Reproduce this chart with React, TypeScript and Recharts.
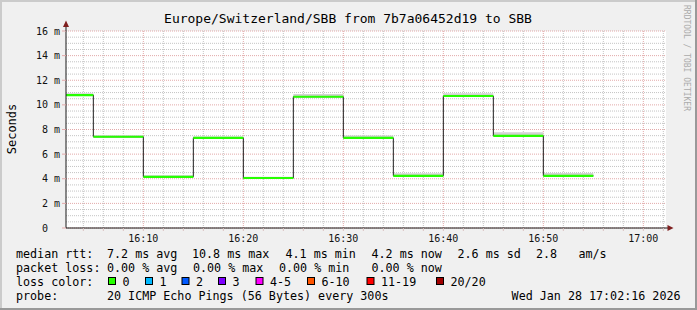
import React from 'react';
import { ComposedChart, Area, XAxis, YAxis, CartesianGrid } from 'recharts';

// minutes after 16:00, one 5 minute step each
const stepStart = [0, 5, 10, 15, 20, 25, 30, 35, 40, 45, 50];
const medianRtt = [10.8, 7.41, 4.16, 7.32, 4.06, 10.66, 7.32, 4.24, 10.72, 7.49, 4.24];
const smokeLow = [10.75, 7.36, 4.11, 7.27, 4.01, 10.61, 7.27, 4.19, 10.67, 7.44, 4.19];
const smokeHigh = [10.95, 7.53, 4.28, 7.44, 4.17, 10.88, 7.52, 4.44, 10.94, 7.77, 4.47];

const timeTicks = [10, 20, 30, 40, 50, 60];
const timeMinorTicks = [4, 6, 8, 12, 14, 16, 18, 22, 24, 26, 28, 32, 34, 36, 38, 42, 44, 46, 48, 52, 54, 56, 58, 62];
const rttTicks = [0, 2, 4, 6, 8, 10, 12, 14, 16];
const rttMinorTicks = [0.5, 1, 1.5, 2.5, 3, 3.5, 4.5, 5, 5.5, 6.5, 7, 7.5, 8.5, 9, 9.5, 10.5, 11, 11.5, 12.5, 13, 13.5, 14.5, 15, 15.5];

const lossLabels = ['0', '1', '2', '3', '4-5', '6-10', '11-19', '20/20'];
const lossColors = ['#26ff00', '#00b8ff', '#0059ff', '#7e00ff', '#ff00ff', '#ff5500', '#ff0000', '#a10000'];
const lossBoxX = [108, 145, 181.5, 218, 255.5, 307, 366.5, 436];

const rttLine = [
  ['median rtt:', 16],
  ['7.2 ms avg', 107],
  ['10.8 ms max', 192],
  ['4.1 ms min', 285.5],
  ['4.2 ms now', 371.5],
  ['2.6 ms sd', 457.5],
  ['2.8', 536],
  ['am/s', 578.5],
] as const;
const lossLine = [
  ['packet loss:', 16],
  ['0.00 % avg', 107],
  ['0.00 % max', 193],
  ['0.00 % min', 279],
  ['0.00 % now', 371.5],
] as const;

const X_DOMAIN: [number, number] = [2 + 16 / 60, 62 + 16 / 60];
const Y_DOMAIN: [number, number] = [0, 16];
const STEP = 5;
const BAND = 0.09;
const MINOR_GRID = '#c4c4c4';
const MAJOR_GRID = '#e2a9a9';

const allTimeTicks = [...timeTicks, ...timeMinorTicks].sort((a, b) => a - b);

const chartData = stepStart.map((t, i) => ({
  t,
  median: medianRtt[i],
  low: smokeLow[i],
  high: smokeHigh[i],
}));
// close the last step
chartData.push({ ...chartData[chartData.length - 1], t: stepStart[stepStart.length - 1] + STEP });

const fmtTime = (m: number) => {
  if (!timeTicks.includes(m)) return '';
  const h = 16 + Math.floor(m / 60);
  const mm = m % 60;
  return `${h}:${String(mm).padStart(2, '0')}`;
};
const fmtRtt = (v: number) => (v === 0 ? '0\u00a0\u00a0' : `${v} m`);

const minorHorizontal = ({ yAxis, offset }: any) =>
  rttMinorTicks.map((v) =>
    yAxis && typeof yAxis.scale === 'function'
      ? yAxis.scale(v)
      : offset.top + offset.height - ((v - Y_DOMAIN[0]) / (Y_DOMAIN[1] - Y_DOMAIN[0])) * offset.height,
  );

// vertical grid comes from the x axis ticks: red every 10 min, grey every 2 min, no edge lines
const renderVertical = (p: any) => {
  const t = allTimeTicks[p.index];
  if (t === undefined) return <g key={`v-${p.index}`} />;
  return (
    <line
      key={`v-${p.index}`}
      x1={p.x1}
      y1={p.y1}
      x2={p.x2}
      y2={p.y2}
      stroke={timeTicks.includes(t) ? MAJOR_GRID : MINOR_GRID}
      strokeDasharray="1 1"
    />
  );
};

const MONO = '"DejaVu Sans Mono", monospace';
const tickFont = { fontFamily: MONO, fontSize: 10, fill: '#111' };

export default function App() {
  return (
    <div style={{ position: 'absolute', left: 0, top: 0, width: 697, height: 310, background: '#f0f0f0' }}>
      {/* white canvas behind the plot area */}
      <svg width={697} height={310} style={{ position: 'absolute', left: 0, top: 0 }}>
        <rect x={66} y={31} width={600} height={197} fill="#ffffff" />
      </svg>
      <ComposedChart
        width={697}
        height={310}
        data={chartData}
        margin={{ top: 31, right: 31, bottom: 52, left: 6 }}
      >
        <CartesianGrid
          vertical={false}
          horizontalCoordinatesGenerator={minorHorizontal}
          stroke={MINOR_GRID}
          strokeDasharray="1 1"
        />
        <CartesianGrid vertical={renderVertical} stroke={MAJOR_GRID} strokeDasharray="1 1" />
        <XAxis
          dataKey="t"
          type="number"
          domain={X_DOMAIN}
          ticks={allTimeTicks}
          interval={0}
          tickFormatter={fmtTime}
          allowDataOverflow
          height={30}
          axisLine={{ stroke: '#1a1a1a' }}
          tickLine={{ stroke: '#d8c0c0' }}
          tickSize={3}
          tickMargin={4}
          tick={tickFont}
        />
        <YAxis
          type="number"
          domain={Y_DOMAIN}
          ticks={rttTicks}
          tickFormatter={fmtRtt}
          allowDataOverflow
          width={60}
          axisLine={{ stroke: '#1a1a1a' }}
          tickLine={{ stroke: MAJOR_GRID }}
          tickSize={4}
          tickMargin={2}
          tick={tickFont}
        />
        <Area
          dataKey={(d: any) => [d.low, d.high]}
          type="stepAfter"
          fill="#d2d2d2"
          fillOpacity={1}
          stroke="none"
          isAnimationActive={false}
        />
        <Area
          dataKey="median"
          type="stepAfter"
          fill="none"
          stroke="#202020"
          strokeWidth={1}
          isAnimationActive={false}
        />
        <Area
          dataKey={(d: any) => [d.median - BAND, d.median + BAND]}
          type="stepAfter"
          fill={lossColors[0]}
          fillOpacity={1}
          stroke="none"
          isAnimationActive={false}
        />
      </ComposedChart>

      <svg width={697} height={310} style={{ position: 'absolute', left: 0, top: 0, pointerEvents: 'none' }}>
        <rect x={0} y={0} width={697} height={2} fill="#cbcbcb" />
        <rect x={0} y={0} width={2} height={310} fill="#cbcbcb" />
        <rect x={0} y={308} width={697} height={2} fill="#999999" />
        <rect x={695} y={0} width={2} height={310} fill="#999999" />

        {/* axis arrows */}
        <line x1={66} y1={26} x2={66} y2={31} stroke="#1a1a1a" />
        <polygon points="63,27 66,20.5 69,27" fill="#7f1f1f" />
        <line x1={666} y1={228} x2={668} y2={228} stroke="#1a1a1a" />
        <polygon points="667.5,225 673.5,228 667.5,231" fill="#7f1f1f" />

        <text x={348} y={22.5} textAnchor="middle" fontFamily={MONO} fontSize={13} fill="#000">
          Europe/Switzerland/SBB from 7b7a06452d19 to SBB
        </text>
        <text
          transform="translate(15.5,129) rotate(-90)"
          textAnchor="middle"
          fontFamily={MONO}
          fontSize={12}
          fill="#000"
        >
          Seconds
        </text>
        <text transform="translate(684,5) rotate(90)" fontFamily={MONO} fontSize={8} fill="#ababab">
          RRDTOOL / TOBI OETIKER
        </text>

        <g fontFamily={MONO} fontSize={11.7} fill="#000">
          {rttLine.map(([s, x]) => (
            <text key={s} x={x} y={258.3}>{s}</text>
          ))}
          {lossLine.map(([s, x]) => (
            <text key={s} x={x} y={272}>{s}</text>
          ))}
          <text x={16} y={285.8}>loss color:</text>
          {lossLabels.map((l, i) => (
            <g key={l}>
              <rect x={lossBoxX[i] + 0.5} y={277.5} width={7} height={7} fill={lossColors[i]} stroke="#000" />
              <text x={lossBoxX[i] + 14.5} y={285.8}>{l}</text>
            </g>
          ))}
          <text x={16} y={299.6}>probe:</text>
          <text x={107} y={299.6}>20 ICMP Echo Pings (56 Bytes) every 300s</text>
          <text x={680.5} y={299.6} textAnchor="end">Wed Jan 28 17:02:16 2026</text>
        </g>
      </svg>
    </div>
  );
}
